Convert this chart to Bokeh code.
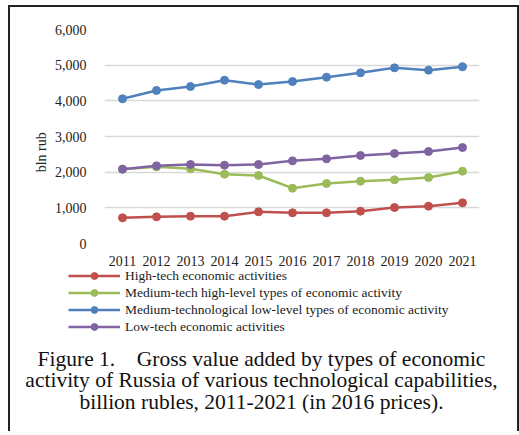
from bokeh.plotting import figure
from bokeh.layouts import column
from bokeh.models import (Legend, LegendItem, Label, ColumnDataSource, FixedTicker,
                          NumeralTickFormatter, Range1d)
from bokeh.embed import file_html
from bokeh.resources import INLINE

years = [2011, 2012, 2013, 2014, 2015, 2016, 2017, 2018, 2019, 2020, 2021]
high_tech = [720, 748, 766, 766, 888, 860, 860, 906, 1009, 1046, 1140]
medium_high = [2084, 2150, 2093, 1944, 1906, 1551, 1682, 1747, 1785, 1850, 2028]
medium_low = [4057, 4290, 4401, 4579, 4457, 4541, 4663, 4785, 4925, 4860, 4953]
low_tech = [2084, 2177, 2215, 2196, 2215, 2317, 2373, 2467, 2523, 2579, 2691]

series_names = [
    "High-tech economic activities",
    "Medium-tech high-level types of economic activity",
    "Medium-technological low-level types of economic activity",
    "Low-tech economic activities",
]
series_values = [high_tech, medium_high, medium_low, low_tech]
colors = ["#C0504D", "#9BBB59", "#4F81BD", "#8064A2"]
y_ticks = [0, 1000, 2000, 3000, 4000, 5000, 6000]
y_title = "bln rub"
caption = [
    "Figure 1.\u00a0\u00a0\u00a0 Gross value added by types of economic",
    "activity of Russia of various technological capabilities,",
    "billion rubles, 2011-2021 (in 2016 prices).",
]

FONT = "Liberation Serif"
W = 511
H1 = 264
H2 = 162
BORDER = "2px solid #222"

# ---- chart ----
p = figure(width=W, height=H1, output_backend="svg", toolbar_location=None,
           x_range=Range1d(2010.47, 2021.5), y_range=Range1d(0, 6000),
           min_border_left=94, min_border_right=42, min_border_top=22, min_border_bottom=28)
p.frame_align = False
p.styles = {"border-left": BORDER, "border-top": BORDER, "border-right": BORDER}
p.outline_line_color = None
p.xgrid.grid_line_color = None
p.ygrid.grid_line_color = "#d9d9d9"
p.ygrid.grid_line_width = 1.5
p.yaxis.ticker = FixedTicker(ticks=y_ticks)
p.xaxis.ticker = FixedTicker(ticks=years)
p.yaxis.formatter = NumeralTickFormatter(format="0,0")
for ax in (p.xaxis[0], p.yaxis[0]):
    ax.axis_line_color = None
    ax.major_tick_line_color = None
    ax.minor_tick_line_color = None
    ax.major_label_text_font = FONT
    ax.major_label_text_font_size = "14px"
    ax.major_label_text_color = "#222"
p.yaxis.major_label_standoff = 12
p.xaxis.major_label_standoff = 6
p.yaxis.axis_label = y_title + "\u00a0" * 9
p.yaxis.axis_label_text_font = FONT
p.yaxis.axis_label_text_font_style = "normal"
p.yaxis.axis_label_text_font_size = "14px"
p.yaxis.axis_label_text_color = "#222"
p.yaxis.axis_label_standoff = 3

sources = []
for vals in series_values:
    sources.append(ColumnDataSource(dict(x=years, y=vals)))
for src, c in zip(sources, colors):
    p.line("x", "y", source=src, line_color=c, line_width=2.5)
    p.scatter("x", "y", source=src, size=8, fill_color=c, line_color=c)

# ---- legend + caption ----
q = figure(width=W, height=H2, output_backend="svg", toolbar_location=None,
           x_range=Range1d(0, W), y_range=Range1d(0, H2),
           min_border_left=0, min_border_right=0, min_border_top=0, min_border_bottom=0)
q.frame_align = False
q.styles = {"border-left": BORDER, "border-right": BORDER}
q.axis.visible = False
q.grid.visible = False
q.outline_line_color = None

items = []
for name, src, c in zip(series_names, sources, colors):
    r1 = q.line("x", "y", source=src, line_color=c, line_width=2.5, visible=False)
    r2 = q.scatter("x", "y", source=src, size=8, fill_color=c, line_color=c, visible=False)
    items.append(LegendItem(label=name, renderers=[r1, r2]))

legend = Legend(items=items, location=(58, 96), glyph_width=52, glyph_height=17,
                label_height=17, label_standoff=5, spacing=0, padding=0, margin=0,
                border_line_color=None, background_fill_alpha=0,
                label_text_font=FONT, label_text_font_size="13.5px", label_text_color="#222")
q.add_layout(legend, "center")

for i, line in enumerate(caption):
    q.add_layout(Label(x=251, y=73 - i * 21.5, text=line, text_align="center",
                       text_baseline="alphabetic", text_font=FONT,
                       text_font_size="21.5px", text_color="#111"))

layout = column(p, q, spacing=0)
layout.styles = {"margin-left": "8px", "margin-top": "5px"}

open("out.html", "w").write(file_html(layout, INLINE))
